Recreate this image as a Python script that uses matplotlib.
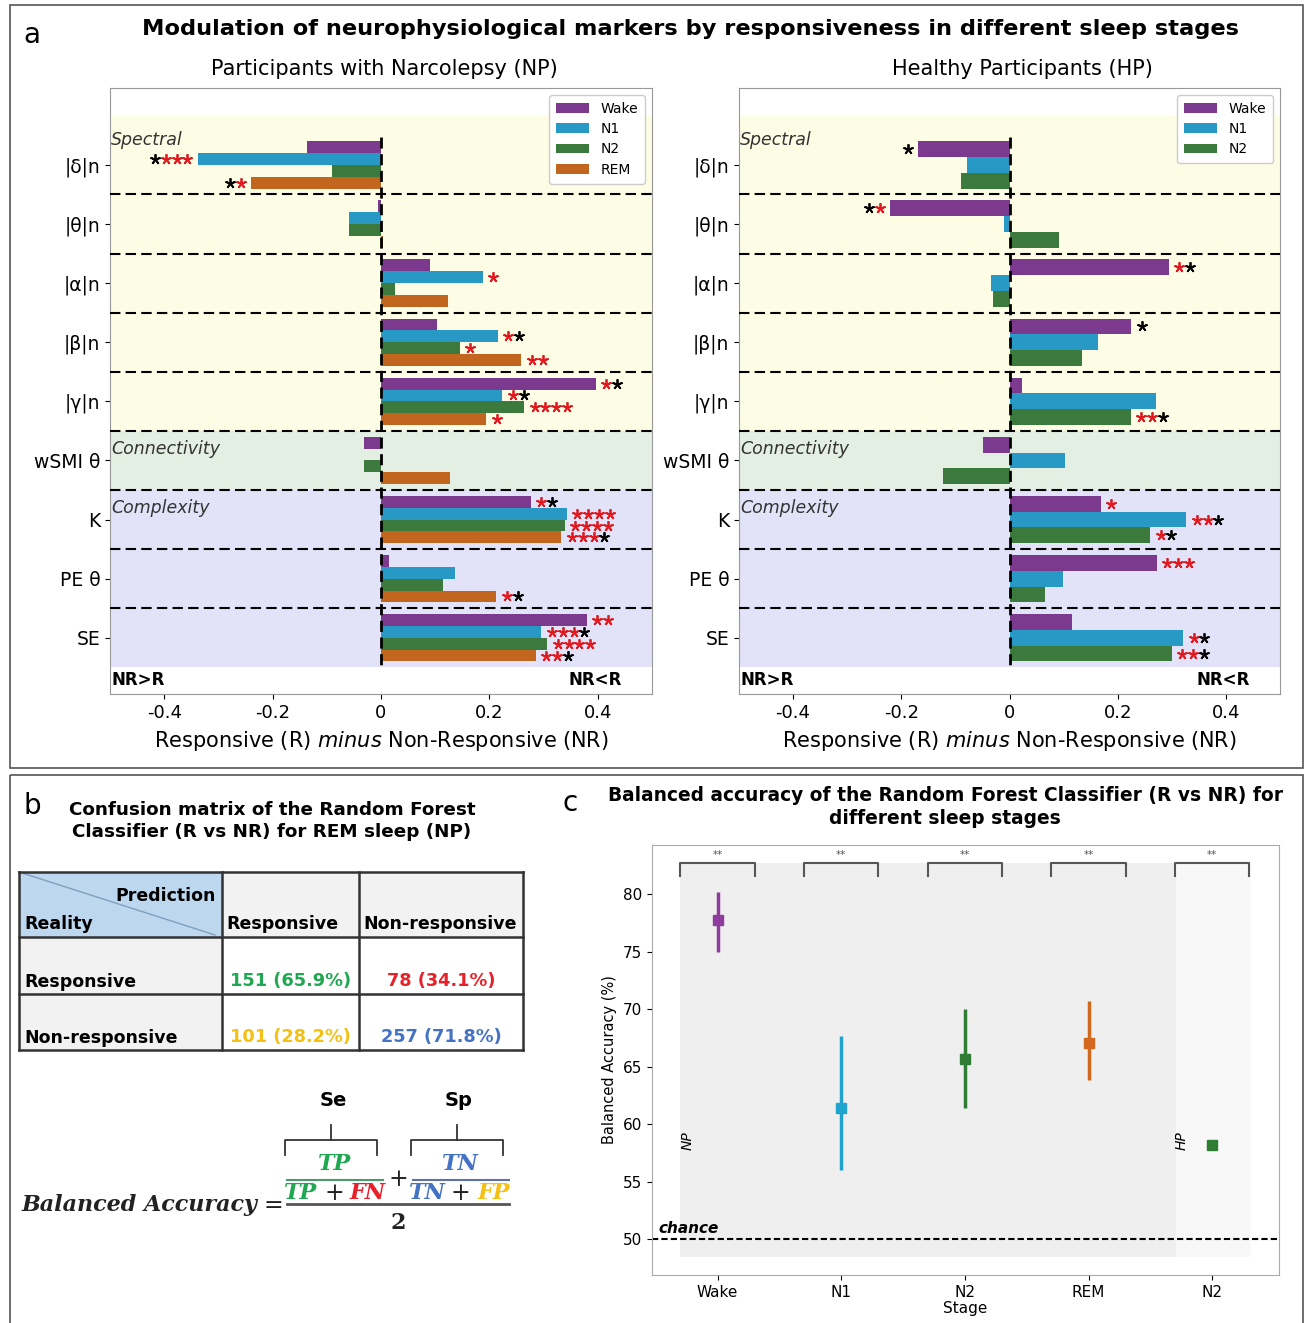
import numpy as np
import matplotlib
matplotlib.use("Agg")
import matplotlib.pyplot as plt
from matplotlib.patches import Rectangle
from matplotlib.transforms import offset_copy

W, H = 1309, 1323

# ---------------- data ----------------
markers = ["|δ|n", "|θ|n", "|α|n", "|β|n", "|γ|n", "wSMI θ", "K", "PE θ", "SE"]

np_wake = [-0.136, -0.006, 0.091, 0.104, 0.396, -0.031, 0.276, 0.015, 0.380]
np_n1 = [-0.338, -0.059, 0.188, 0.216, 0.224, 0.0, 0.343, 0.136, 0.296]
np_n2 = [-0.090, -0.059, 0.026, 0.145, 0.264, -0.032, 0.339, 0.114, 0.307]
np_rem = [-0.240, 0.003, 0.124, 0.259, 0.194, 0.128, 0.333, 0.213, 0.286]

hp_wake = [-0.169, -0.221, 0.294, 0.225, 0.024, -0.049, 0.169, 0.272, 0.115]
hp_n1 = [-0.078, -0.010, -0.034, 0.164, 0.270, 0.103, 0.327, 0.099, 0.321]
hp_n2 = [-0.089, 0.092, -0.031, 0.134, 0.224, -0.123, 0.260, 0.066, 0.300]

# significance stars: (red count, black count)
np_stars_wake = [(0, 0), (0, 0), (0, 0), (0, 0), (1, 1), (0, 0), (1, 1), (0, 0), (2, 0)]
np_stars_n1 = [(3, 1), (0, 0), (1, 0), (1, 1), (1, 1), (0, 0), (4, 0), (0, 0), (3, 1)]
np_stars_n2 = [(0, 0), (0, 0), (0, 0), (1, 0), (4, 0), (0, 0), (4, 0), (0, 0), (4, 0)]
np_stars_rem = [(1, 1), (0, 0), (0, 0), (2, 0), (1, 0), (0, 0), (3, 1), (1, 1), (2, 1)]

hp_stars_wake = [(0, 1), (1, 1), (1, 1), (0, 1), (0, 0), (0, 0), (1, 0), (3, 0), (0, 0)]
hp_stars_n1 = [(0, 0), (0, 0), (0, 0), (0, 0), (0, 0), (0, 0), (2, 1), (0, 0), (1, 1)]
hp_stars_n2 = [(0, 0), (0, 0), (0, 0), (0, 0), (2, 1), (0, 0), (1, 1), (0, 0), (2, 1)]

xtick_vals = [-0.4, -0.2, 0, 0.2, 0.4]
xtick_labels = ["-0.4", "-0.2", "0", "0.2", "0.4"]

# confusion matrix (REM, NP)
cm_counts = [[151, 78], [101, 257]]
cm_pct = [[65.9, 34.1], [28.2, 71.8]]
cm_labels = ["Responsive", "Non-responsive"]

# balanced accuracy
ba_stages = ["Wake", "N1", "N2", "REM", "N2"]
ba_mean = [77.8, 61.4, 65.7, 67.1, 58.2]
ba_low = [75.0, 56.0, 61.4, 63.9, 57.9]
ba_high = [80.2, 67.7, 70.0, 70.7, 58.5]
ba_sig = ["**", "**", "**", "**", "**"]

colors = {"Wake": "#7b3a8e", "N1": "#2899c4", "N2": "#3b7a3c", "REM": "#c1651f"}
ba_colors = ["#8e3c9e", "#1fa4d0", "#2e7d32", "#d2691e", "#2e7d32"]

fig = plt.figure(figsize=(W / 100, H / 100), dpi=100)


def px_axes(x0, y0, x1, y1, **kw):
    return fig.add_axes([x0 / W, 1 - y1 / H, (x1 - x0) / W, (y1 - y0) / H], **kw)


def ftxt(x, y, s, **kw):
    fig.text(x / W, 1 - y / H, s, **kw)


# overlay in pixel coordinates for borders, table and formula
ov = px_axes(0, 0, W, H)
ov.set_xlim(0, W)
ov.set_ylim(H, 0)
ov.axis("off")
ov.add_patch(Rectangle((10, 5), 1293, 763, fill=False, ec="#555", lw=1.2))
ov.add_patch(Rectangle((10, 775), 1293, 560, fill=False, ec="#555", lw=1.2))

# ---------------- panel a ----------------
STAR_STEP = 7.8   # points between stars
STAR_GAP = 7.5    # points from bar end to first star centre


def bar_panel(ax, series, stars, names):
    n = len(series)
    h = 0.8 / n
    y = np.arange(len(markers))
    ax.axhspan(-0.83, 4.5, color="#fdfde6", zorder=0, lw=0)
    ax.axhspan(4.5, 5.5, color="#e4efe4", zorder=0, lw=0)
    ax.axhspan(5.5, 8.5, color="#e2e2f8", zorder=0, lw=0)
    for k, (vals, st, name) in enumerate(zip(series, stars, names)):
        yy = y - 0.4 + h * (k + 0.5)
        ax.barh(yy, vals, height=h, color=colors[name], label=name, zorder=2)
        for yi, v, (nr, nb) in zip(yy, vals, st):
            d = 1 if v >= 0 else -1
            for j in range(nr + nb):
                tr = offset_copy(ax.transData, fig=fig, x=d * (STAR_GAP + j * STAR_STEP),
                                 y=0, units="points")
                ax.plot(v, yi, ls="none", marker=(5, 2, 0), ms=7.5, mew=1.3,
                        color="#e0191f" if j < nr else "black", transform=tr, zorder=4)
    for i in range(len(markers) - 1):
        ax.axhline(i + 0.5, color="k", ls=(0, (5, 2.5)), lw=1.5, zorder=3)
    ax.vlines(0, -0.47, 8.5, color="k", ls=(0, (4, 2)), lw=2, zorder=3)
    ax.set_ylim(8.95, -1.3)
    ax.set_xlim(-0.5, 0.5)
    ax.set_yticks(y)
    ax.set_yticklabels(markers, fontsize=13.5)
    ax.set_xticks(xtick_vals)
    ax.set_xticklabels(xtick_labels, fontsize=13)
    ax.set_xlabel(r"Responsive (R) $\it{minus}$ Non-Responsive (NR)", fontsize=15, labelpad=5)
    for s in ax.spines.values():
        s.set_color("#999")
    ax.text(-0.498, -0.42, "Spectral", style="italic", fontsize=12.5, color="#333", va="center")
    ax.text(-0.498, 4.80, "Connectivity", style="italic", fontsize=12.5, color="#333", va="center")
    ax.text(-0.498, 5.80, "Complexity", style="italic", fontsize=12.5, color="#333", va="center")
    ax.text(-0.497, 8.72, "NR>R", weight="bold", fontsize=12, va="center")
    ax.text(0.445, 8.72, "NR<R", weight="bold", fontsize=12, va="center", ha="right")
    leg = ax.legend(loc="upper right", fontsize=10, handlelength=2.4, borderpad=0.5,
                    labelspacing=0.45, fancybox=True, framealpha=1)
    leg.get_frame().set_edgecolor("#ccc")


ax_np = px_axes(110, 88, 652, 694)
bar_panel(ax_np, [np_wake, np_n1, np_n2, np_rem],
          [np_stars_wake, np_stars_n1, np_stars_n2, np_stars_rem],
          ["Wake", "N1", "N2", "REM"])
ax_hp = px_axes(739, 88, 1280, 694)
bar_panel(ax_hp, [hp_wake, hp_n1, hp_n2],
          [hp_stars_wake, hp_stars_n1, hp_stars_n2],
          ["Wake", "N1", "N2"])

ftxt(32, 35, "a", fontsize=20, ha="center", va="center")
ftxt(690, 29, "Modulation of neurophysiological markers by responsiveness in different sleep stages",
     fontsize=16.2, weight="bold", ha="center", va="center")
ftxt(384, 69, "Participants with Narcolepsy (NP)", fontsize=15, ha="center", va="center")
ftxt(1022, 69, "Healthy Participants (HP)", fontsize=15, ha="center", va="center")

# ---------------- panel b ----------------
ftxt(32, 806, "b", fontsize=20, ha="center", va="center")
ftxt(272, 821, "Confusion matrix of the Random Forest\nClassifier (R vs NR) for REM sleep (NP)",
     fontsize=13.2, weight="bold", ha="center", va="center", linespacing=1.25)

xs = [19, 222, 359, 523]
ys = [872, 937, 994, 1050]
ov.add_patch(Rectangle((xs[0], ys[0]), xs[1] - xs[0], ys[1] - ys[0], fc="#bdd7ee", ec="none"))
ov.add_patch(Rectangle((xs[1], ys[0]), xs[3] - xs[1], ys[1] - ys[0], fc="#f2f2f2", ec="none"))
ov.add_patch(Rectangle((xs[0], ys[1]), xs[1] - xs[0], ys[3] - ys[1], fc="#f2f2f2", ec="none"))
ov.plot([xs[0], 215], [ys[0], 935], color="#7f9fbf", lw=1)
for xv in xs:
    ov.plot([xv, xv], [ys[0], ys[-1]], color="#333", lw=1.8)
for yv in ys:
    ov.plot([xs[0], xs[-1]], [yv, yv], color="#333", lw=1.8)

ov.text(216, 896, "Prediction", weight="bold", fontsize=12.5, ha="right", va="center")
ov.text(24, 924, "Reality", weight="bold", fontsize=12.5, ha="left", va="center")
ov.text(226, 924, cm_labels[0], weight="bold", fontsize=12.5, ha="left", va="center")
ov.text(363, 924, cm_labels[1], weight="bold", fontsize=12.5, ha="left", va="center")
ov.text(24, 982, cm_labels[0], weight="bold", fontsize=12.5, ha="left", va="center")
ov.text(24, 1038, cm_labels[1], weight="bold", fontsize=12.5, ha="left", va="center")
cm_colors = [["#1fa851", "#e8202a"], ["#f5c013", "#4472c4"]]
for i in range(2):
    for j in range(2):
        ov.text((xs[j + 1] + xs[j + 2]) / 2, [981, 1037][i],
                f"{cm_counts[i][j]} ({cm_pct[i][j]}%)", color=cm_colors[i][j],
                weight="bold", fontsize=12.8, ha="center", va="center")

# formula
serif = dict(family="DejaVu Serif", style="italic", weight="bold", fontsize=16)
plain = dict(family="DejaVu Serif", fontsize=17, color="#222", ha="center", va="center")
ov.text(22, 1205, "Balanced Accuracy", ha="left", va="center", color="#222", **serif)
ov.text(273, 1205, "=", **plain)
ov.text(335, 1164, "TP", ha="center", va="center", color="#1fa851", **serif)
ov.text(301, 1193, "TP", ha="center", va="center", color="#1fa851", **serif)
ov.text(334, 1193, "+", **plain)
ov.text(368, 1193, "FN", ha="center", va="center", color="#e8202a", **serif)
ov.text(398, 1180, "+", **plain)
ov.text(460, 1164, "TN", ha="center", va="center", color="#4472c4", **serif)
ov.text(427, 1193, "TN", ha="center", va="center", color="#4472c4", **serif)
ov.text(460, 1193, "+", **plain)
ov.text(494, 1193, "FP", ha="center", va="center", color="#f5c013", **serif)
ov.plot([287, 383], [1180, 1180], color="#4a9a6a", lw=1.5)
ov.plot([413, 509], [1180, 1180], color="#6070a8", lw=1.5)
ov.plot([287, 509], [1204, 1204], color="#555", lw=2)
ov.text(398, 1223, "2", ha="center", va="center", color="#222", family="DejaVu Serif",
        weight="bold", fontsize=16)
for (a, b, lab) in [(285, 377, "Se"), (411, 503, "Sp")]:
    ov.plot([a, a, b, b], [1155, 1140, 1140, 1155], color="#333", lw=1.3)
    ov.plot([(a + b) / 2] * 2, [1140, 1125], color="#333", lw=1.3)
    ov.text((a + b) / 2 + 2, 1100, lab, weight="bold", fontsize=14, ha="center", va="center")

# ---------------- panel c ----------------
ftxt(570, 803, "c", fontsize=20, ha="center", va="center")
ftxt(945, 807, "Balanced accuracy of the Random Forest Classifier (R vs NR) for\ndifferent sleep stages",
     fontsize=13.4, weight="bold", ha="center", va="center", linespacing=1.3)

axc = px_axes(652, 845, 1279, 1275)
xpos = np.arange(len(ba_stages))
axc.fill_between([-0.3, 3.71], 48.5, 82.7, color="#efefef", lw=0, zorder=0)
axc.fill_between([3.71, 4.31], 48.5, 82.7, color="#f8f8f8", lw=0, zorder=0)
for x, m, lo, hi, c in zip(xpos, ba_mean, ba_low, ba_high, ba_colors):
    axc.errorbar(x, m, yerr=[[m - lo], [hi - m]], fmt="s", color=c, ms=6.5, lw=2.5,
                 capsize=0, zorder=3)
for x, s in zip(xpos, ba_sig):
    axc.plot([x - 0.3, x - 0.3, x + 0.3, x + 0.3], [81.6, 82.7, 82.7, 81.6],
             color="#555", lw=1.5, zorder=3)
    axc.text(x, 83.0, s, ha="center", va="bottom", fontsize=7.5, color="#555")
axc.axhline(50, color="k", ls=(0, (3, 1.5)), lw=1.5, zorder=2)
axc.text(-0.48, 50.25, "chance", weight="bold", style="italic", fontsize=11, va="bottom")
axc.text(-0.24, 58.6, "NP", rotation=90, style="italic", fontsize=10, ha="center", va="center")
axc.text(3.75, 58.6, "HP", rotation=90, style="italic", fontsize=10, ha="center", va="center")
axc.set_xlim(-0.53, 4.54)
axc.set_ylim(46.9, 84.3)
axc.set_xticks(xpos)
axc.set_xticklabels(ba_stages, fontsize=11)
axc.set_yticks([50, 55, 60, 65, 70, 75, 80])
axc.tick_params(labelsize=11)
axc.set_xlabel("Stage", fontsize=11, labelpad=1)
axc.set_ylabel("Balanced Accuracy (%)", fontsize=10.5)
for s in axc.spines.values():
    s.set_color("#aaa")

fig.savefig("out.png", dpi=100)
